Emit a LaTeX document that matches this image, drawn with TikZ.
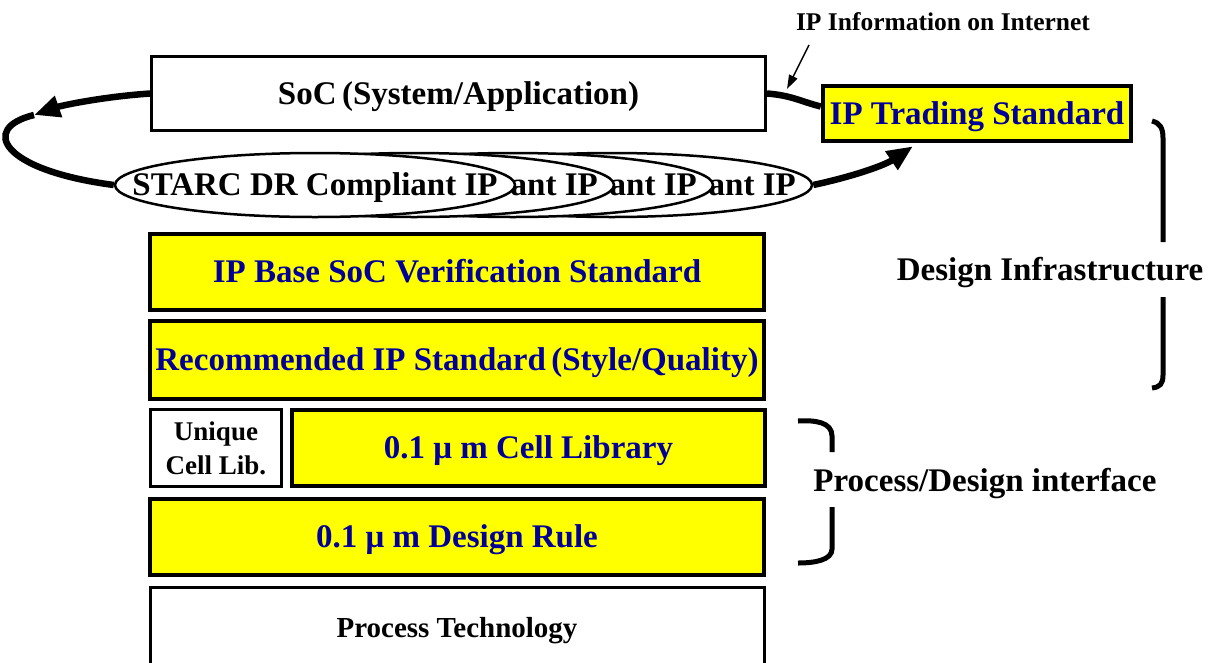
\documentclass[tikz,border=0pt]{standalone}
\usepackage{fontspec}
\setmainfont{Liberation Serif}
\usetikzlibrary{arrows.meta,shapes.geometric,calc}
\definecolor{layeryellow}{RGB}{255,255,0}
\definecolor{layerblue}{RGB}{0,0,153}
\tikzset{
  big/.style={font=\fontsize{33}{38}\selectfont\bfseries, text height=21.8pt, text depth=0pt, inner sep=0pt},
  mid/.style={font=\fontsize{29}{34}\selectfont\bfseries, text height=19.1pt, text depth=0pt, inner sep=0pt},
  small/.style={font=\fontsize{25.5}{30}\selectfont\bfseries, text height=16.8pt, text depth=0pt, inner sep=0pt},
  layer/.style={big, draw, line width=4.5pt, fill=layeryellow, text=layerblue},
  plainbox/.style={draw, line width=3pt, fill=white},
  ipell/.style={big, ellipse, draw, line width=2.5pt, fill=white, minimum width=400pt, minimum height=64pt},
  tailtext/.style={big, anchor=east, xshift=184pt},
  flow/.style={line width=6.5pt},
  flowtip/.style={flow, -{Triangle[length=26pt,width=21pt]}},
  brace/.style={line width=5pt},
}
\begin{document}
\begin{tikzpicture}[x=1pt,y=-1pt]
\useasboundingbox (0,0) rectangle (1217,662);
\clip (0,0) rectangle (1217,662);

% application layer and trading standard
\node[plainbox, big, minimum width=614pt, minimum height=74pt] (soc) at (458.5,93.5) {SoC\,(System/Application)};
\node[layer, minimum width=308pt, minimum height=55pt] (ipt) at (977,113.5) {IP Trading Standard};
\node[small] (inet) at (943,22) {IP Information on Internet};
\coordinate (inettail) at (809,45);
\coordinate (inethead) at (787,89);
\draw[line width=1.5pt, -{Triangle[length=14pt,width=9pt]}] (inettail) -- (inethead);

% stack of compliant IP: the rear copies only show the end of their label
\node[ipell] (e4) at (612,185) {};
\node[tailtext] (t4) at (e4.center) {ant IP};
\node[ipell] (e3) at (513,185) {};
\node[tailtext] (t3) at (e3.center) {ant IP};
\node[ipell] (e2) at (414,185) {};
\node[tailtext] (t2) at (e2.center) {ant IP};
\node[ipell] (e1) at (315,185) {\makebox[0pt]{STARC DR Compliant IP}};

% circulation loop
\coordinate (looptip) at (34,115);
\draw[flowtip] (soc.west) .. controls (100,97) and (60,106) .. (looptip);
\draw[flow] (looptip) .. controls (-20,128) and (0,170) .. (e1.west);
\draw[flow] (soc.east) .. controls +(25,2) and +(-20,-5) .. ([yshift=7pt]ipt.west);
\draw[flowtip] (e4.east) .. controls (855,176) and (885,165) .. ([xshift=-64pt,yshift=-3pt]ipt.south);

% design layers
\node[layer, minimum width=614pt, minimum height=76pt] (ipbase) at (457,272) {IP Base SoC Verification Standard};
\node[layer, minimum width=614pt, minimum height=78pt] (rec) at (457,360) {Recommended IP Standard\,(Style/Quality)};
\node[plainbox, align=center, inner sep=0pt, font=\fontsize{27}{34}\selectfont\bfseries, minimum width=131pt, minimum height=77pt] (uniq) at (216,448) {Unique\\Cell Lib.};
\node[layer, minimum width=473pt, minimum height=76pt] (cell) at (528.5,448) {0.1 μ m Cell Library};
\node[layer, minimum width=614pt, minimum height=76pt] (dr) at (457,537) {0.1 μ m Design Rule};
\node[plainbox, mid, minimum width=614pt, minimum height=81pt] (proc) at (457,628) {Process Technology};

% braces and their labels
\node[big] (dinfra) at (1050,270) {Design Infrastructure};
\draw[brace] (1152,121) .. controls (1160,123) and (1163,128) .. (1163,138) -- (1163,242);
\draw[brace] (1163,297) -- (1163,375) .. controls (1163,384) and (1160,387) .. (1152,388);
\node[big] (pdi) at (985,481) {Process/Design interface};
\draw[brace] (798,421) .. controls (815,420) and (832,422) .. (832,436) -- (832,452);
\draw[brace] (832,507) -- (832,549) .. controls (832,560) and (815,563) .. (798,563);
\end{tikzpicture}
\end{document}
